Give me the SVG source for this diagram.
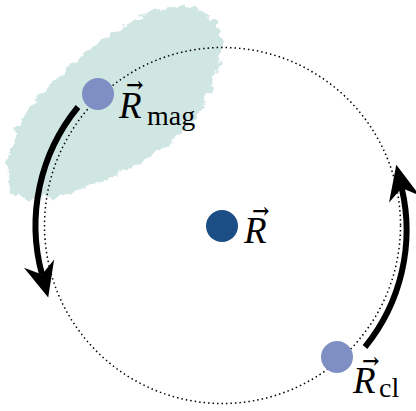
<svg xmlns="http://www.w3.org/2000/svg" width="416" height="411" viewBox="0 0 416 411">
  <style>
    .orbit { fill: none; stroke: #000; stroke-width: 1.5; stroke-dasharray: 1.5 3; }
    .arc { fill: none; stroke: #000; stroke-width: 6; }
    .light { fill: #7F8FC3; }
    .dark { fill: #1A4E85; }
    .lbl { font-family: "Liberation Serif", serif; fill: #000; }
    .var { font-style: italic; font-size: 37px; }
    .sub { font-style: normal; font-size: 28px; }
    .vec { font-family: "DejaVu Serif", serif; font-style: normal; font-size: 21px; font-weight: bold; }
  </style>
  <defs>
    <marker id="head" markerUnits="userSpaceOnUse" markerWidth="40" markerHeight="40" viewBox="-30 -15 32 30" refX="-19" refY="0" orient="auto" overflow="visible">
      <path d="M0,0 L-28,-12.5 L-19,0 L-28,12.5 Z" fill="#000"/>
    </marker>
    <filter id="rough" x="-10%" y="-10%" width="120%" height="120%">
      <feTurbulence type="fractalNoise" baseFrequency="0.12" numOctaves="3" seed="4" result="n"/>
      <feDisplacementMap in="SourceGraphic" in2="n" scale="11" xChannelSelector="R" yChannelSelector="G"/>
    </filter>
  </defs>

  <g id="region">
    <path filter="url(#rough)" fill="#CFE6E3" d="M10,185 C5,170 9,148 16,133 C23,118 29,106 39,96 C54,80 77,58 104,38 C124,23 150,9 183,6 C201,7 215,19 221,33 C225,45 220,60 215,75 C211,92 205,104 196,117 C185,131 168,144 148,157 C128,170 102,183 70,193 C48,199 28,201 18,196 C13,193 11,189 10,185 Z"/>
  </g>

  <g id="orbit">
    <circle class="orbit" cx="222.5" cy="225.5" r="178"/>
  </g>

  <g id="connectors">
    <path class="arc" d="M78,107 A187,187 0 0,0 42,274.5" marker-end="url(#head)"/>
    <path class="arc" d="M365,347 A185,185 0 0,0 401.7,188" marker-end="url(#head)"/>
  </g>

  <g id="node-Rmag">
    <circle class="light" cx="98" cy="94" r="16"/>
    <text class="lbl"><tspan class="var" x="119" y="118">R</tspan><tspan class="vec" x="126" y="92">→</tspan><tspan class="sub" x="147" y="125">mag</tspan></text>
  </g>

  <g id="node-R">
    <circle class="dark" cx="222" cy="226" r="16"/>
    <text class="lbl"><tspan class="var" x="244" y="242.7">R</tspan><tspan class="vec" x="252" y="218">→</tspan></text>
  </g>

  <g id="node-Rcl">
    <circle class="light" cx="337" cy="357" r="16"/>
    <text class="lbl"><tspan class="var" x="353" y="393.3">R</tspan><tspan class="vec" x="362" y="368">→</tspan><tspan class="sub" x="379" y="397">cl</tspan></text>
  </g>
</svg>
